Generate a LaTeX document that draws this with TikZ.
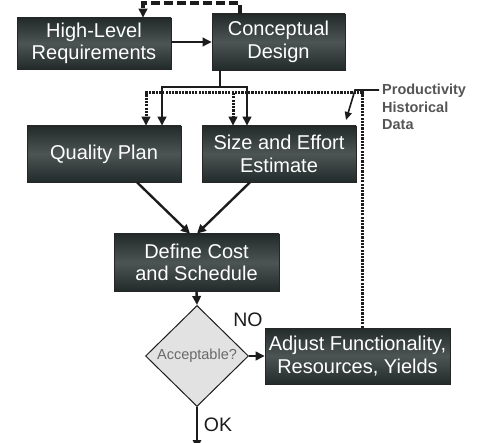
\documentclass[tikz,border=0pt]{standalone}
\usepackage{fontspec}
\setmainfont{Liberation Sans}
\usetikzlibrary{arrows.meta,shapes.geometric}

\definecolor{boxdark}{RGB}{34,42,42}
\definecolor{boxmid}{RGB}{76,84,84}
\definecolor{ink}{RGB}{28,28,28}
\definecolor{labelgray}{RGB}{85,85,85}
\definecolor{diafill}{RGB}{226,226,226}
\definecolor{diatext}{RGB}{105,105,105}

\tikzset{
  stepbox/.style={draw=black!85, line width=0.6pt,
    top color=boxdark, bottom color=boxdark, middle color=boxmid,
    text=white, font=\fontsize{20}{22.5}\selectfont, align=center, inner sep=0pt},
  decision/.style={shape=diamond, draw=ink, line width=1pt, fill=diafill,
    inner sep=0pt, minimum width=103pt, minimum height=101pt,
    text=diatext, font=\fontsize{14.5}{16}\selectfont},
  tip/.style={-{Triangle[length=9pt,width=8.5pt]}},
  flow/.style={draw=ink, line width=2.4pt, line join=miter},
  dotflow/.style={draw=ink, line width=3pt, dash pattern=on 2.2pt off 1.1pt},
  dashflow/.style={draw=ink, line width=3.4pt, dash pattern=on 9pt off 4pt},
  answer/.style={text=ink, font=\fontsize{19.5}{22}\selectfont, inner sep=0pt},
  sidenote/.style={text=labelgray, font=\fontsize{14.5}{17.5}\selectfont\bfseries,
    align=left, inner sep=0pt}
}

\begin{document}
\begin{tikzpicture}[x=1pt, y=-1pt]
\useasboundingbox (0,0) rectangle (484,443);

% process boxes
\node[stepbox, minimum width=154pt, minimum height=51pt] (hlr) at (94,43.5) {High-Level\\Requirements};
\node[stepbox, minimum width=133pt, minimum height=56pt] (cd) at (278.5,42) {Conceptual\\Design};
\node[stepbox, minimum width=154pt, minimum height=56pt] (qp) at (104,154) {Quality Plan};
\node[stepbox, minimum width=154pt, minimum height=56pt] (sz) at (279,154) {Size and Effort\\Estimate};
\node[stepbox, minimum width=165pt, minimum height=57pt] (dc) at (196.5,262.5) {Define Cost\\and Schedule};
\node[decision] (ok) at (197,356) {Acceptable?};
\node[stepbox, minimum width=185pt, minimum height=56pt] (adj) at (357.5,356) {Adjust Functionality,\\Resources, Yields};

% labels
\node[answer] (no) at (248,320) {NO};
\node[answer] (okl) at (218,425) {OK};
\node[sidenote, anchor=north west] (pd) at (382,84) {Productivity\\Historical\\Data};

% routing points
\coordinate (tl) at (143,3);
\coordinate (tr) at (240,3);
\coordinate (sp) at (220,87);
\coordinate (spl) at (162,87);
\coordinate (spr) at (247,87);
\coordinate (dl) at (146,93);
\coordinate (dm) at (233,93);
\coordinate (dr) at (362,93);
\coordinate (pa) at (355,90);
\coordinate (pb) at (379,90);
\coordinate (ptip) at (346,120);
\coordinate (qpout) at (137,0);
\coordinate (szout) at (250,0);
\coordinate (dcl) at (190,0);
\coordinate (dcr) at (197,0);
\coordinate (exit) at (197,449);

% feedback loop from the design back to the requirements
\draw[dashflow, tip] (cd.north -| tr) -- (tr) -- (tl) -- (hlr.north -| tl);

% main flow
\draw[flow, tip, line width=2pt] (hlr.east |- cd) -- (cd.west);
\draw[flow] (cd.south -| sp) -- (sp);
\draw[flow, tip] (sp) -- (spl) -- (qp.north -| spl);
\draw[flow, tip] (sp) -- (spr) -- (sz.north -| spr);
\draw[flow, tip] (qp.south -| qpout) -- (dc.north -| dcl);
\draw[flow, tip] (sz.south -| szout) -- (dc.north -| dcr);
\draw[flow, tip] (dc.south) -- (ok.north);
\draw[flow, tip] (ok.east) -- (adj.west);
\draw[flow, tip, line width=1.6pt] (ok.south) -- (exit);

% adjustment feedback
\draw[dotflow, tip] (adj.north -| dr) -- (dr) -- (dl) -- (qp.north -| dl);
\draw[dotflow, tip] (dm) -- (sz.north -| dm);

% productivity data input
\draw[flow, line width=1.6pt, -{Triangle[length=8pt,width=7pt]}] (pb) -- (pa) -- (ptip);
\end{tikzpicture}
\end{document}
